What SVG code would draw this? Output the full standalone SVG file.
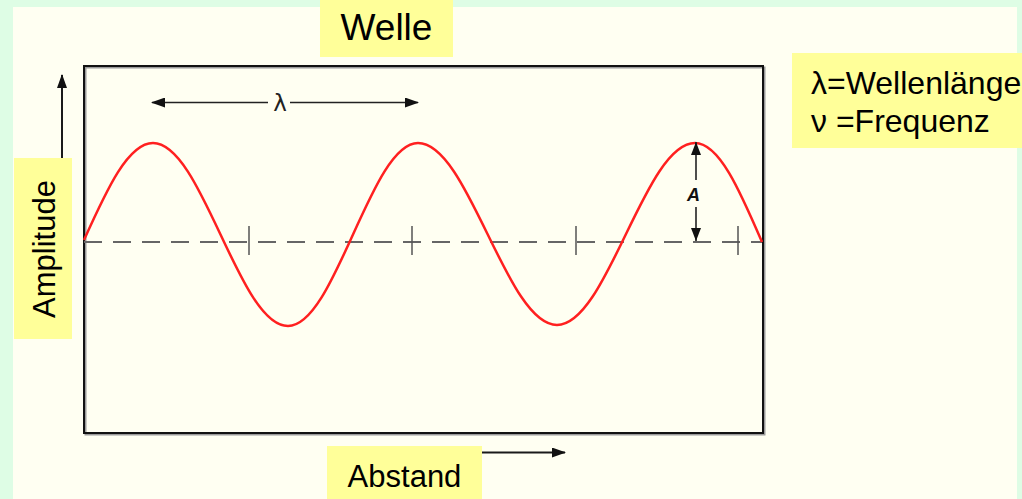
<svg xmlns="http://www.w3.org/2000/svg" width="1022" height="499" viewBox="0 0 1022 499">
  <style>
    .label { fill: #ffff99; }
    .txt { font-family: "Liberation Sans", Arial, sans-serif; fill: #000; }
    .axis { stroke: #1a1a1a; stroke-width: 2; fill: none; }
    .dim { stroke: #222; stroke-width: 1.6; fill: none; }
    .tick { stroke: #555; stroke-width: 1.5; }
  </style>
  <defs>
    <marker id="ah" viewBox="0 0 14 10" refX="13" refY="5" markerWidth="14" markerHeight="10" markerUnits="userSpaceOnUse" orient="auto">
      <path d="M0,0 L14,5 L0,10 Z" fill="#111"/>
    </marker>
    <marker id="ahs" viewBox="0 0 13 10" refX="13" refY="5" markerWidth="13" markerHeight="10" markerUnits="userSpaceOnUse" orient="auto">
      <path d="M0,0 L13,5 L0,10 Z" fill="#111"/>
    </marker>
  </defs>

  <!-- background -->
  <rect x="0" y="0" width="1022" height="499" fill="#defde5"/>
  <rect x="13" y="7" width="1004" height="492" fill="#fffff2"/>

  <!-- plot frame -->
  <g id="frame">
    <rect x="85.5" y="67.5" width="679" height="367" fill="none" stroke="#9a9a9a" stroke-width="2"/>
    <rect x="84" y="66" width="679" height="367" fill="none" stroke="#111" stroke-width="2"/>
  </g>

  <!-- baseline with ticks -->
  <g id="baseline">
    <line x1="84" y1="242" x2="762" y2="242" stroke="#666" stroke-width="2" stroke-dasharray="18 11"/>
    <line class="tick" x1="249" y1="226" x2="249" y2="255"/>
    <line class="tick" x1="412" y1="226" x2="412" y2="255"/>
    <line class="tick" x1="576" y1="226" x2="576" y2="255"/>
    <line class="tick" x1="738" y1="226" x2="738" y2="255"/>
  </g>

  <!-- wave -->
  <g id="wave">
    <path d="M84,240 C107,189 128.2,143 153,143 C202.1,143 238.9,326 288,326 C335.2,326 370.8,143 418,143 C468.5,143 506.5,325 557,325 C607.2,325 644.8,143 695,143 C719.1,143 739.7,190.2 762,242" fill="none" stroke="#ff2020" stroke-width="2.5"/>
  </g>

  <!-- connectors / arrows -->
  <g id="connectors">
    <line class="dim" x1="268" y1="102.5" x2="152" y2="102.5" marker-end="url(#ah)"/>
    <line class="dim" x1="290" y1="102.5" x2="418" y2="102.5" marker-end="url(#ah)"/>
    <line class="dim" x1="696" y1="180" x2="696" y2="142" marker-end="url(#ahs)"/>
    <line class="dim" x1="696" y1="207" x2="696" y2="241" marker-end="url(#ahs)"/>
    <line class="axis" x1="62" y1="158" x2="62" y2="75" marker-end="url(#ah)"/>
    <line class="axis" x1="482" y1="452.5" x2="565" y2="452.5" marker-end="url(#ah)"/>
  </g>

  <g id="lambda-label">
    <text x="280" y="111" font-family="'DejaVu Sans', sans-serif" font-size="23" text-anchor="middle" fill="#222">λ</text>
  </g>

  <g id="amp-label">
    <text x="693.5" y="201" font-family="'Liberation Sans', Arial, sans-serif" font-size="18" font-weight="bold" font-style="italic" text-anchor="middle" fill="#111">A</text>
  </g>

  <g id="title">
    <rect class="label" x="320" y="0" width="133" height="57"/>
    <text class="txt" x="386.5" y="40" font-size="37" text-anchor="middle">Welle</text>
  </g>

  <g id="legend">
    <rect class="label" x="792" y="53" width="230" height="95"/>
    <text class="txt" x="811" y="94" font-size="32">λ=Wellenlänge</text>
    <text class="txt" x="811" y="132" font-size="32">ν =Frequenz</text>
  </g>

  <g id="y-axis-label">
    <rect class="label" x="14" y="158" width="58" height="181"/>
    <text class="txt" transform="translate(55,249) rotate(-90)" x="0" y="0" font-size="31" text-anchor="middle">Amplitude</text>
  </g>

  <g id="x-axis-label">
    <rect class="label" x="327" y="446" width="155" height="53"/>
    <text class="txt" x="404.5" y="487" font-size="31" text-anchor="middle">Abstand</text>
  </g>
</svg>
